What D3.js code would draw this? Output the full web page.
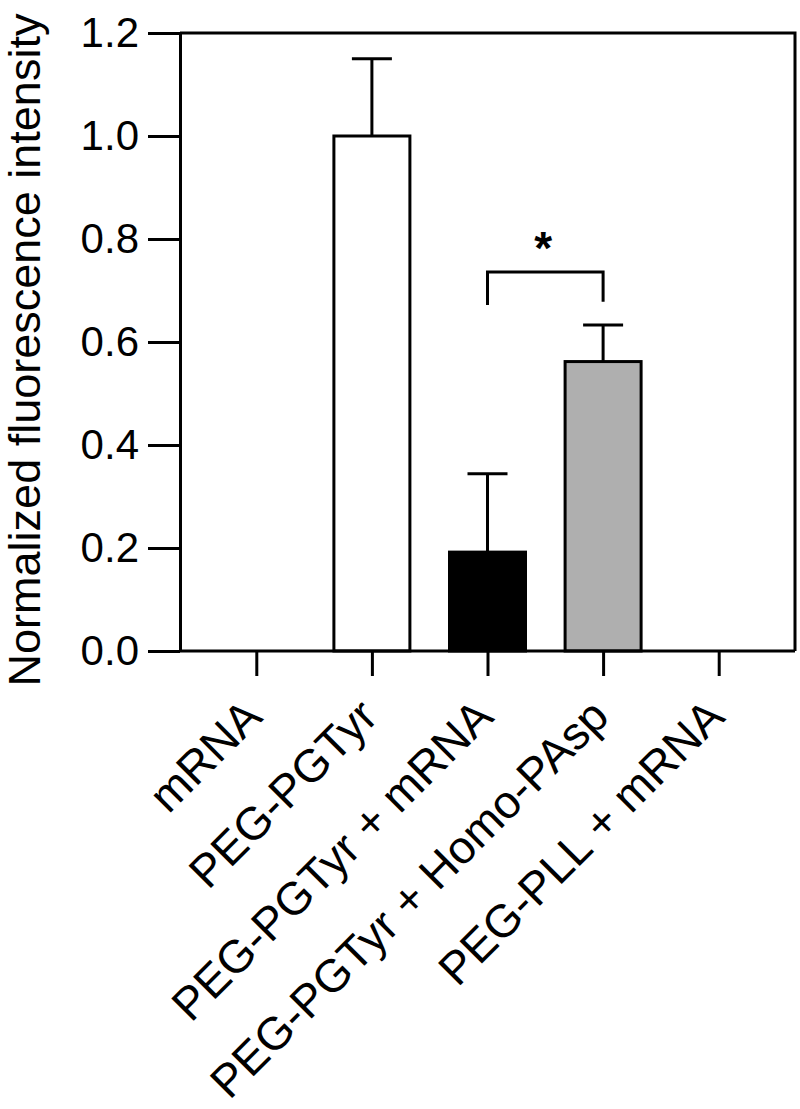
<!DOCTYPE html>
<html>
<head>
<meta charset="utf-8">
<script src="https://cdn.jsdelivr.net/npm/d3@7"></script>
<style>
  body { margin: 0; background: #fff; }
  text { font-family: "Liberation Sans", Arial, Helvetica, sans-serif; }
</style>
</head>
<body>
<div id="viz"></div>
<script>
// data
let categories = ["mRNA", "PEG-PGTyr", "PEG-PGTyr + mRNA", "PEG-PGTyr + Homo-PAsp", "PEG-PLL + mRNA"]
let means = [0, 1.0, 0.192, 0.562, 0]
let errors = [0, 0.15, 0.152, 0.071, 0]
let barColors = ["none", "#ffffff", "#000000", "#afafaf", "none"]
let yTicks = [0, 0.2, 0.4, 0.6, 0.8, 1.0, 1.2]
// significance bracket: [top, left leg end, right leg end]
let bracketPairs = [["PEG-PGTyr + mRNA", "PEG-PGTyr + Homo-PAsp"]]
let bracketLevels = [[0.736, 0.672, 0.678]]
let bracketLabels = ["*"]

let width = 800
let height = 1109
let plotL = 180, plotR = 795, plotT = 33, plotB = 651

let svg = d3.select('#viz').append('svg').attr("width", width).attr("height", height)

let x = d3.scalePoint().domain(categories).range([plotL, plotR]).padding(0.66)
let y = d3.scaleLinear().domain([0, 1.2]).range([plotB, plotT])
let barW = 76

//Bars
categories.forEach((c, i) => {
    if (means[i] <= 0) return
    svg.append("line").attr("x1", x(c)).attr("x2", x(c))
        .attr("y1", y(means[i])).attr("y2", y(means[i] + errors[i]))
        .attr("stroke", "#000").attr("stroke-width", 3)
    svg.append("line").attr("x1", x(c) - 20).attr("x2", x(c) + 20)
        .attr("y1", y(means[i] + errors[i])).attr("y2", y(means[i] + errors[i]))
        .attr("stroke", "#000").attr("stroke-width", 3)
    svg.append("rect").attr("x", x(c) - barW / 2).attr("y", y(means[i]))
        .attr("width", barW).attr("height", y(0) - y(means[i]))
        .attr("fill", barColors[i]).attr("stroke", "#000").attr("stroke-width", 3)
})

//Frame (top + right)
svg.append("path").attr("d", `M${plotL},${plotT}H${plotR}V${plotB}`)
    .attr("fill", "none").attr("stroke", "#000").attr("stroke-width", 3)

//Y axis
let yAxis = svg.append("g").attr("transform", `translate(${plotL},0)`)
    .call(d3.axisLeft(y).tickValues(yTicks).tickFormat(d3.format(".1f")).tickSize(32).tickSizeOuter(0).tickPadding(9))
yAxis.select(".domain").attr("stroke-width", 3)
yAxis.selectAll(".tick line").attr("stroke-width", 3)
yAxis.selectAll(".tick text").attr("font-size", 42).attr("fill", "#000")
    .attr("font-family", '"Liberation Sans", Arial, sans-serif')

//X axis
let xAxis = svg.append("g").attr("transform", `translate(0,${plotB})`)
    .call(d3.axisBottom(x).tickSize(25).tickSizeOuter(0).tickFormat(""))
xAxis.select(".domain").attr("stroke-width", 3).attr("d", `M${plotL},0H${plotR}`)
xAxis.selectAll(".tick line").attr("stroke-width", 3)

//Category labels
svg.selectAll(".cat").data(categories).enter().append("text")
    .attr("class", "cat")
    .attr("transform", d => `translate(${x(d) + 8},719) rotate(-45)`)
    .attr("text-anchor", "end").attr("font-size", 46).attr("fill", "#000")
    .text(d => d)

//Y label
svg.append("text").text("Normalized fluorescence intensity")
    .attr("transform", "translate(40,350) rotate(-90)")
    .attr("text-anchor", "middle").attr("font-size", 45).attr("fill", "#000")

//Significance bracket
bracketPairs.forEach((p, i) => {
    let x1 = x(p[0]), x2 = x(p[1])
    let lv = bracketLevels[i]
    svg.append("path")
        .attr("d", `M${x1},${y(lv[1])}V${y(lv[0])}H${x2}V${y(lv[2])}`)
        .attr("fill", "none").attr("stroke", "#000").attr("stroke-width", 3)
    svg.append("text").text(bracketLabels[i])
        .attr("x", (x1 + x2) / 2 - 2).attr("y", y(lv[0]) - 8)
        .attr("text-anchor", "middle").attr("font-size", 46).attr("font-weight", "bold")
})
</script>
</body>
</html>
